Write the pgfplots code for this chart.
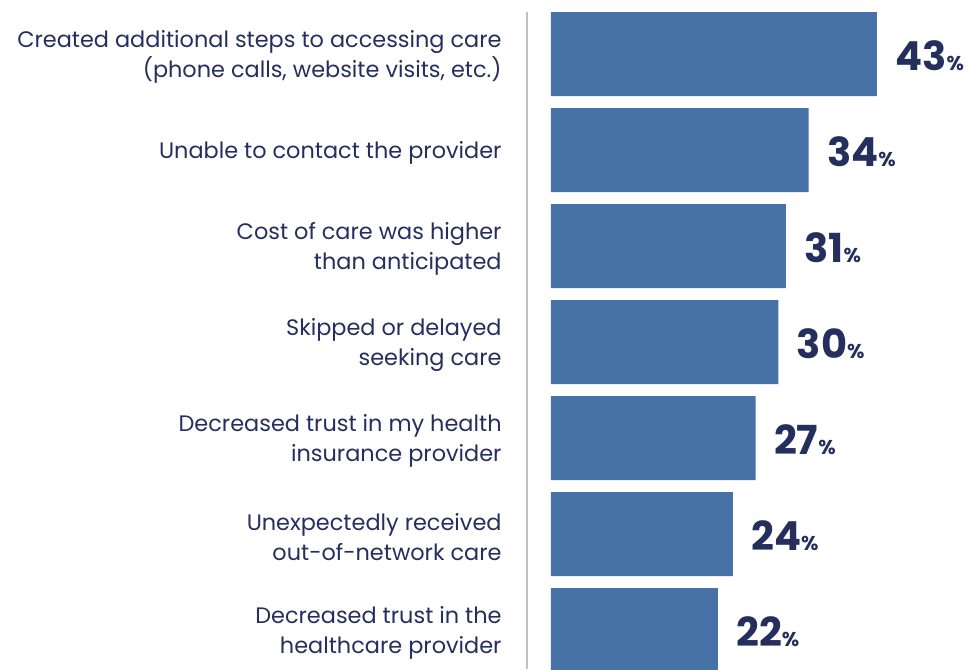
\documentclass[border=0pt]{standalone}
\usepackage{pgfplots}
\pgfplotsset{compat=1.18}
\usepackage{fontspec}
\setmainfont{Poppins}
\definecolor{barblue}{HTML}{4672A8}
\definecolor{navy}{HTML}{252F5E}
\definecolor{rule}{HTML}{C0C0C0}
\begin{document}
\begin{tikzpicture}
\begin{axis}[
    at={(0,0)}, anchor=south west,
    scale only axis,
    width=211pt, height=334.5pt,
    xbar, bar width=0.875,
    xmin=0, xmax=55.67,
    ymin=-0.5625, ymax=6.406,
    y dir=reverse,
    axis line style={draw=none},
    xtick=\empty,
    ytick={0,...,6},
    major tick length=0pt,
    yticklabels={
      {Created additional steps to accessing care\\(phone calls, website visits, etc.)},
      {Unable to contact the provider},
      {Cost of care was higher\\than anticipated},
      {Skipped or delayed\\seeking care},
      {Decreased trust in my health\\insurance provider},
      {Unexpectedly received\\out-of-network care},
      {Decreased trust in the\\healthcare provider}},
    yticklabel style={align=right, anchor=east, inner sep=0pt, xshift=-24.5pt, yshift=-1.5pt,
      font=\fontsize{11.2}{15}\selectfont, text=navy},
    clip=false,
    /pgf/number format/assume math mode=true,
    nodes near coords={{\bfseries\fontsize{20}{20}\selectfont\pgfmathprintnumber{\pgfplotspointmeta}}{\bfseries\fontsize{10}{10}\selectfont\%}},
    every node near coord/.append style={anchor=west, inner sep=0pt, xshift=9pt, yshift=-1pt, text=navy},
  ]
  \addplot[fill=barblue, draw=none] coordinates {
    (43,0) (34,1) (31,2) (30,3) (27,4) (24,5) (22,6)};
  \draw[rule, line width=1pt] ([xshift=-12pt]axis cs:0,-0.4375) -- ([xshift=-12pt]axis cs:0,6.406);
\end{axis}
\pgfresetboundingbox
\useasboundingbox (-275.5pt,0) rectangle (211pt,334.5pt);
\end{tikzpicture}
\end{document}
